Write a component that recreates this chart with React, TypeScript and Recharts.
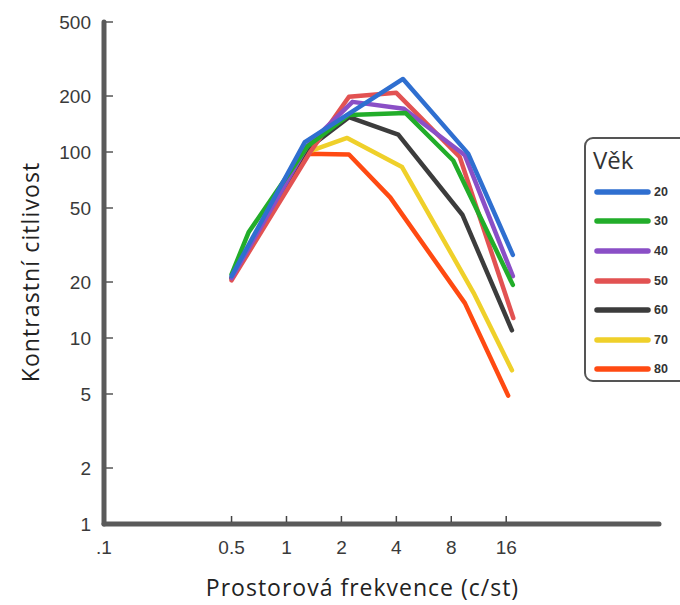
import React from 'react';
import { LineChart, Line, XAxis, YAxis, ReferenceLine } from 'recharts';

// spatial frequency (c/st) and contrast sensitivity
const freqTicks = [0.1, 0.5, 1, 2, 4, 8, 16];
const sensTicks = [1, 2, 5, 10, 20, 50, 100, 200, 500];

const ages = ['20', '30', '40', '50', '60', '70', '80'];
const colors = ['#2f6fd0', '#22ad2a', '#8a4fc6', '#e25252', '#3c3c3c', '#efd02a', '#ff4a12'];

const age20 = [[0.5, 21.5], [1.26, 113], [4.35, 247], [9.9, 98], [17.4, 28]];
const age30 = [[0.5, 22], [0.62, 37], [1.3, 107], [2.2, 158], [4.5, 162], [8.2, 90], [17.4, 19.3]];
const age40 = [[0.5, 21], [1.3, 108], [2.3, 186], [4.4, 171], [9.5, 96], [17.4, 21.5]];
const age50 = [[0.5, 20.4], [1.35, 100], [2.2, 198], [4.0, 208], [8.9, 94], [17.5, 12.8]];
const age60 = [[0.5, 21], [1.3, 104], [2.2, 154], [4.1, 124], [9.2, 46], [17.2, 11]];
const age70 = [[0.5, 21], [1.3, 100], [2.15, 119], [4.3, 83], [10.6, 17.5], [17.2, 6.7]];
const age80 = [[0.5, 21], [1.3, 98], [2.2, 97], [3.7, 57], [9.5, 15.4], [16.4, 4.9]];

const seriesData = [age20, age30, age40, age50, age60, age70, age80];

const toPoints = (arr: number[][]) => arr.map(([f, v]) => ({ f, v }));

const Y_MARGIN = 13;
const X_MARGIN = 17;
const tickFont = { fontFamily: '"Liberation Sans", Arial, sans-serif', fontSize: 19, fill: '#3a3a3a' };
const titleFont = '"Open Sans", sans-serif';

function YTick(props: any) {
  const { x, y, payload } = props;
  const ax = x + Y_MARGIN;
  return (
    <g>
      {payload.value !== 1 && <line x1={ax + 2} x2={ax + 9} y1={y} y2={y} stroke="#555" strokeWidth={1.5} />}
      <text x={x} y={y} dy="0.36em" textAnchor="end" {...tickFont}>{payload.value}</text>
    </g>
  );
}

function XTick(props: any) {
  const { x, y, payload } = props;
  const ay = y - X_MARGIN;
  const label = payload.value === 0.1 ? '.1' : String(payload.value);
  return (
    <g>
      {payload.value !== 0.1 && <line x1={x} x2={x} y1={ay - 2} y2={ay - 8} stroke="#444" strokeWidth={1.5} />}
      <text x={x} y={y} dy="0.71em" textAnchor="middle" {...tickFont}>{label}</text>
    </g>
  );
}

function AgeLegend() {
  return (
    <div style={{
      position: 'absolute', left: 584, top: 137, width: 110, height: 245,
      border: '2px solid #555', borderRadius: 9, background: '#fff',
      boxSizing: 'border-box', padding: '6px 0 0 7px',
    }}>
      <div style={{ fontFamily: titleFont, fontSize: 24, color: '#333', lineHeight: '30px', marginBottom: 2 }}>Věk</div>
      {ages.map((age, i) => (
        <div key={age} style={{ display: 'flex', alignItems: 'center', height: 29.6 }}>
          <svg width={58} height={10}>
            <line x1={4} x2={55} y1={5} y2={5} stroke={colors[i]} strokeWidth={5.5} strokeLinecap="round" />
          </svg>
          <span style={{ marginLeft: 3, fontFamily: '"Liberation Sans", Arial, sans-serif', fontWeight: 'bold', fontSize: 12.5, color: '#333' }}>{age}</span>
        </div>
      ))}
    </div>
  );
}

export default function App() {
  const order = [6, 5, 4, 3, 2, 1, 0]; // draw 80 first so 20 ends up on top
  return (
    <div style={{ position: 'relative', width: 680, height: 605, background: '#fff', overflow: 'hidden' }}>
      <style>{'body{margin:0}'}</style>
      <LineChart width={680} height={605} margin={{ top: 22, right: 21, bottom: 41, left: 44 }}>
        <XAxis
          dataKey="f"
          type="number"
          scale="log"
          domain={[0.1, 110]}
          ticks={freqTicks}
          allowDataOverflow
          height={40}
          tickSize={0}
          tickMargin={X_MARGIN}
          tick={<XTick />}
          axisLine={{ stroke: '#5a5a5a', strokeWidth: 5, strokeLinecap: 'round' }}
        />
        <YAxis
          dataKey="v"
          type="number"
          scale="log"
          domain={[1, 500]}
          ticks={sensTicks}
          allowDataOverflow
          width={60}
          tickSize={0}
          tickMargin={Y_MARGIN}
          tick={<YTick />}
          axisLine={{ stroke: '#5a5a5a', strokeWidth: 5, strokeLinecap: 'round' }}
        />
        <ReferenceLine x={0.1} stroke="#bdbdbd" strokeWidth={1.5} ifOverflow="visible" />
        <ReferenceLine y={1} stroke="#bdbdbd" strokeWidth={1.5} ifOverflow="visible" />
        {order.map(i => (
          <Line
            key={ages[i]}
            data={toPoints(seriesData[i])}
            dataKey="v"
            name={ages[i]}
            type="linear"
            stroke={colors[i]}
            strokeWidth={4.5}
            strokeLinecap="round"
            strokeLinejoin="round"
            dot={false}
            activeDot={false}
            isAnimationActive={false}
          />
        ))}
      </LineChart>
      <AgeLegend />
      <div style={{
        position: 'absolute', left: 0, width: 725, top: 571, textAlign: 'center',
        fontFamily: titleFont, fontSize: 23, letterSpacing: 1, color: '#222',
      }}>
        Prostorová frekvence (c/st)
      </div>
      <div style={{
        position: 'absolute', left: 30, top: 272, transform: 'translate(-50%, -50%) rotate(-90deg)',
        whiteSpace: 'nowrap', fontFamily: titleFont, fontSize: 23, letterSpacing: 1.1, color: '#222',
      }}>
        Kontrastní citlivost
      </div>
    </div>
  );
}
